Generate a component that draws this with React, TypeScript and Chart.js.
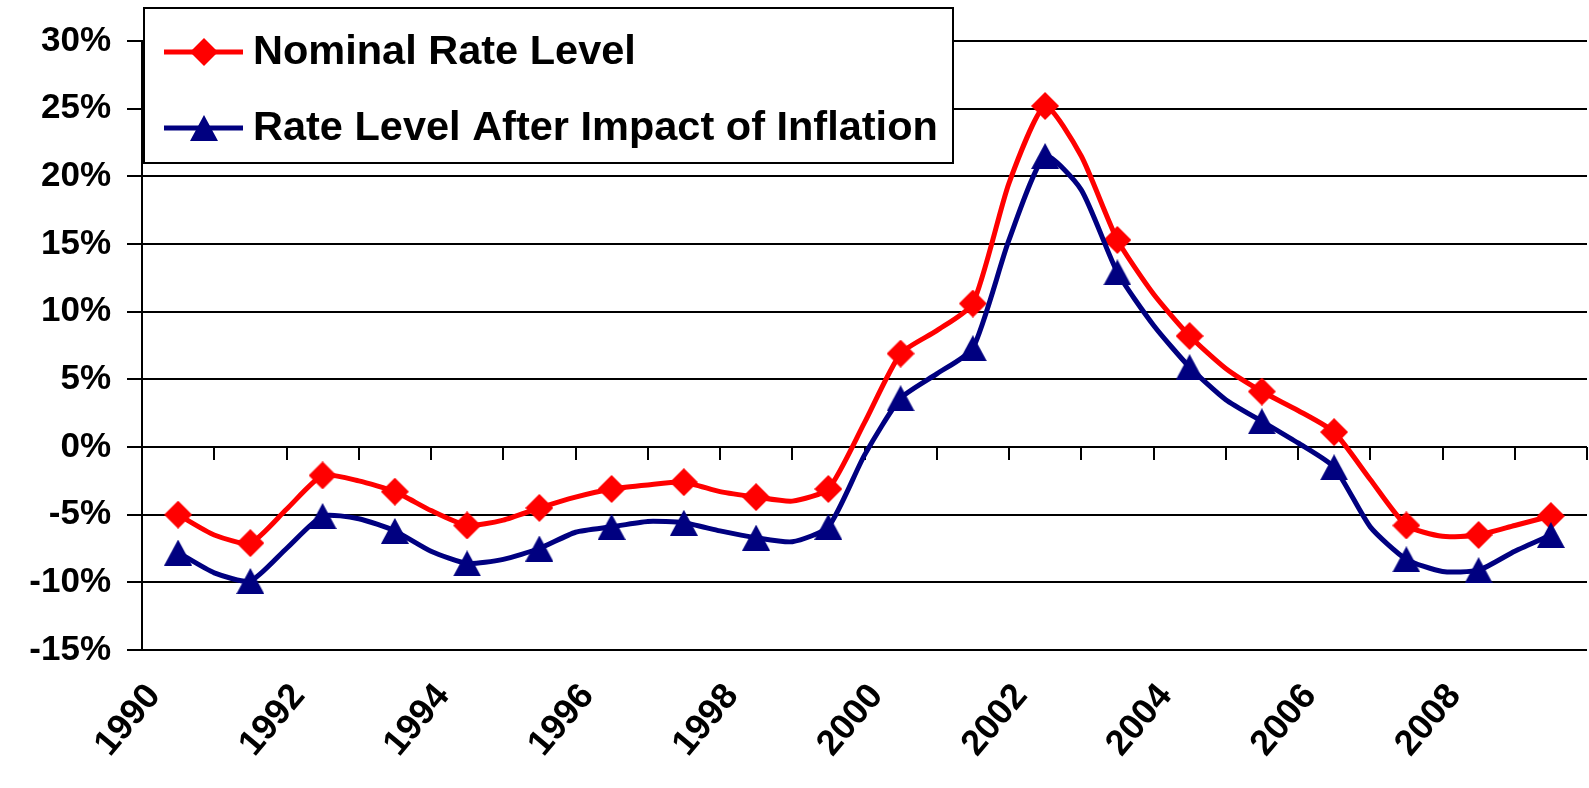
import React, { useEffect, useRef } from "react";
import { Chart, registerables } from "chart.js";

Chart.register(...registerables);

// Half-year positions (mid-year points carry the markers)
const periods = [
  1990.5, 1991, 1991.5, 1992, 1992.5, 1993, 1993.5, 1994, 1994.5, 1995,
  1995.5, 1996, 1996.5, 1997, 1997.5, 1998, 1998.5, 1999, 1999.5, 2000,
  2000.5, 2001, 2001.5, 2002, 2002.5, 2003, 2003.5, 2004, 2004.5, 2005,
  2005.5, 2006, 2006.5, 2007, 2007.5, 2008, 2008.5, 2009, 2009.5,
];

const nominalRate = [
  -5.0, -6.5, -7.1, -4.6, -2.1, -2.5, -3.3, -4.7, -5.8, -5.4,
  -4.5, -3.7, -3.1, -2.8, -2.6, -3.3, -3.7, -4.0, -3.1, 1.8,
  6.9, 8.6, 10.6, 19.5, 25.2, 21.5, 15.3, 11.3, 8.2, 5.8,
  4.1, 2.7, 1.1, -2.4, -5.8, -6.6, -6.5, -5.8, -5.1,
];

const afterInflation = [
  -7.8, -9.3, -9.9, -7.5, -5.1, -5.3, -6.2, -7.7, -8.6, -8.3,
  -7.5, -6.3, -5.9, -5.5, -5.6, -6.2, -6.7, -7.0, -5.9, -0.6,
  3.6, 5.4, 7.3, 15.3, 21.5, 19.0, 12.9, 9.0, 5.9, 3.5,
  1.9, 0.3, -1.5, -5.9, -8.3, -9.2, -9.1, -7.7, -6.5,
];

const seriesNames = ["Nominal Rate Level", "Rate Level After Impact of Inflation"];
const yearLabels = ["1990", "1992", "1994", "1996", "1998", "2000", "2002", "2004", "2006", "2008"];

const RED = "#FF0000";
const NAVY = "#000080";
const FONT = '"Liberation Sans", Arial, sans-serif';

function makeTriangle(): HTMLCanvasElement {
  const c = document.createElement("canvas");
  c.width = 28;
  c.height = 26;
  const g = c.getContext("2d")!;
  g.fillStyle = NAVY;
  g.beginPath();
  g.moveTo(14, 0);
  g.lineTo(28, 26);
  g.lineTo(0, 26);
  g.closePath();
  g.fill();
  return c;
}

function makeDiamond(): HTMLCanvasElement {
  const c = document.createElement("canvas");
  c.width = 28;
  c.height = 28;
  const g = c.getContext("2d")!;
  g.fillStyle = RED;
  g.beginPath();
  g.moveTo(14, 0);
  g.lineTo(28, 14);
  g.lineTo(14, 28);
  g.lineTo(0, 14);
  g.closePath();
  g.fill();
  return c;
}

const noPadding = () => ({ left: 0, right: 0, top: 0, bottom: 0 });

export default function App() {
  const ref = useRef<HTMLCanvasElement | null>(null);

  useEffect(() => {
    if (!ref.current) return;
    const tri = makeTriangle();
    const dia = makeDiamond();
    const isMarker = (ctx: any) => {
      const p = periods[ctx.dataIndex];
      return p !== undefined && p % 1 !== 0;
    };

    const zeroTicks = {
      id: "zeroTicks",
      beforeDatasetsDraw(chart: any) {
        const { ctx, scales } = chart;
        const x = scales.x;
        const y = scales.y;
        const y0 = y.getPixelForValue(0);
        ctx.save();
        ctx.strokeStyle = "#000";
        ctx.lineWidth = 2;
        for (const t of x.ticks) {
          const px = Math.round(x.getPixelForValue(t.value));
          ctx.beginPath();
          ctx.moveTo(px, y0);
          ctx.lineTo(px, y0 + 13);
          ctx.stroke();
        }
        ctx.restore();
      },
    };

    const boxLegend = {
      id: "boxLegend",
      afterDraw(chart: any) {
        const { ctx } = chart;
        const left = 144, top = 8, right = 953, bottom = 163;
        ctx.save();
        ctx.fillStyle = "#fff";
        ctx.fillRect(left, top, right - left, bottom - top);
        ctx.strokeStyle = "#000";
        ctx.lineWidth = 2;
        ctx.strokeRect(left, top, right - left, bottom - top);
        const rows = [
          { y: 52, color: RED, img: dia, text: seriesNames[0] },
          { y: 128, color: NAVY, img: tri, text: seriesNames[1] },
        ];
        for (const r of rows) {
          ctx.strokeStyle = r.color;
          ctx.lineWidth = 5;
          ctx.beginPath();
          ctx.moveTo(164, r.y);
          ctx.lineTo(243, r.y);
          ctx.stroke();
          ctx.drawImage(r.img, 204 - r.img.width / 2, r.y - r.img.height / 2);
          ctx.fillStyle = "#000";
          ctx.font = `bold 41.5px ${FONT}`;
          ctx.textBaseline = "middle";
          ctx.textAlign = "left";
          ctx.fillText(r.text, 253, r.y + 1);
        }
        ctx.restore();
      },
    };

    const chart = new Chart(ref.current, {
      type: "line",
      data: {
        datasets: [
          {
            label: seriesNames[0],
            data: periods.map((p, i) => ({ x: p, y: nominalRate[i] })),
            borderColor: RED,
            backgroundColor: RED,
            borderWidth: 5,
            tension: 0.2,
            order: 2,
            pointStyle: dia as any,
            pointRadius: (ctx: any) => (isMarker(ctx) ? 14 : 0),
            pointHoverRadius: 0,
          },
          {
            label: seriesNames[1],
            data: periods.map((p, i) => ({ x: p, y: afterInflation[i] })),
            borderColor: NAVY,
            backgroundColor: NAVY,
            borderWidth: 5,
            tension: 0.2,
            order: 1,
            pointStyle: tri as any,
            pointRadius: (ctx: any) => (isMarker(ctx) ? 14 : 0),
            pointHoverRadius: 0,
          },
        ],
      },
      options: {
        animation: false,
        responsive: false,
        devicePixelRatio: 1,
        events: [],
        layout: { autoPadding: false, padding: { top: 41, right: 2, left: 0, bottom: 0 } },
        plugins: {
          legend: { display: false },
          tooltip: { enabled: false },
        },
        scales: {
          x: {
            type: "linear",
            min: 1990,
            max: 2010,
            grid: { display: false, drawTicks: false },
            border: { display: false },
            afterFit: (s: any) => {
              s.height = 138;
              s.paddingLeft = 0;
              s.paddingRight = 0;
              s.getPadding = noPadding;
            },
            ticks: {
              stepSize: 1,
              autoSkip: false,
              minRotation: 50,
              maxRotation: 50,
              padding: 26,
              labelOffset: 12,
              color: "#000",
              font: { family: FONT, size: 36, weight: "bold" },
              callback: (v: any) => {
                const s = String(v);
                return yearLabels.includes(s) ? s : "";
              },
            },
          },
          y: {
            min: -15,
            max: 30,
            afterFit: (s: any) => {
              s.width = 142;
              s.paddingTop = 0;
              s.paddingBottom = 0;
              s.getPadding = noPadding;
            },
            grid: { color: "#000", lineWidth: 2, tickLength: 15 },
            border: { display: true, color: "#000", width: 2 },
            ticks: {
              stepSize: 5,
              padding: 16,
              color: "#000",
              font: { family: FONT, size: 35, weight: "bold" },
              callback: (v: any) => `${v}%`,
            },
          },
        },
      },
      plugins: [zeroTicks, boxLegend],
    });
    return () => chart.destroy();
  }, []);

  return (
    <div style={{ position: "absolute", left: 0, top: 0, width: 1589, height: 788, background: "#fff" }}>
      <canvas ref={ref} width={1589} height={788} style={{ width: 1589, height: 788, display: "block" }} />
    </div>
  );
}
